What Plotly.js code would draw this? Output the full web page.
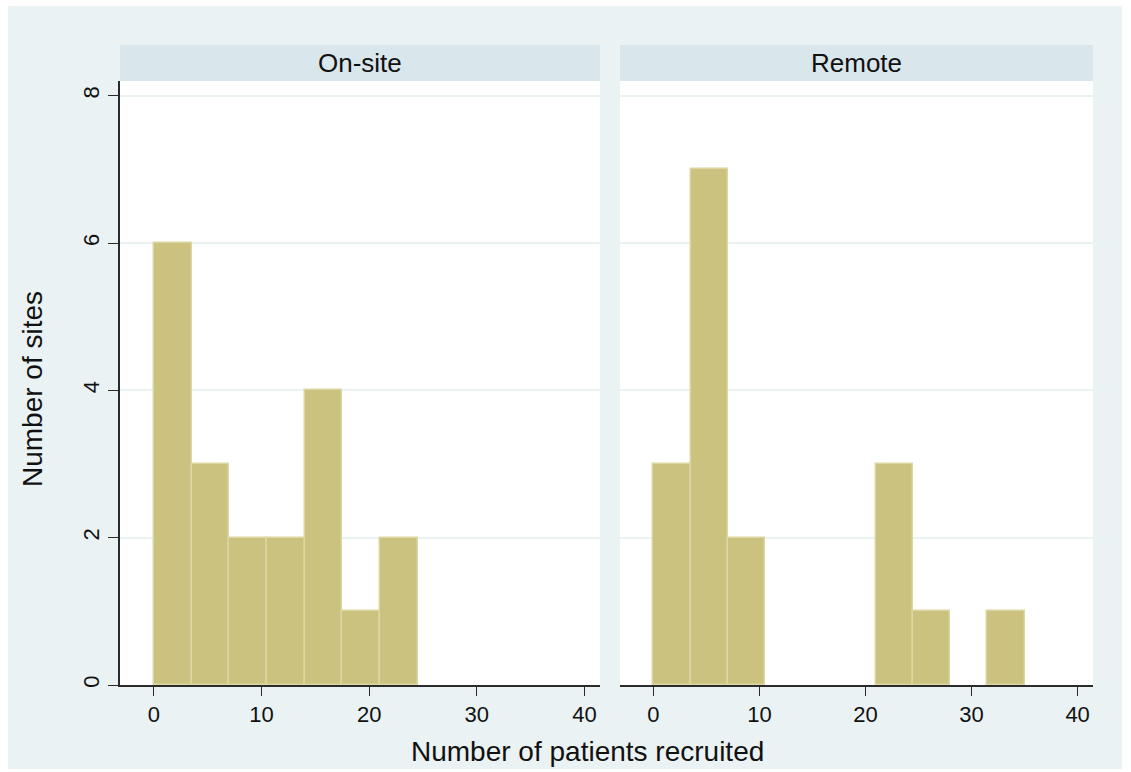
<!DOCTYPE html>
<html>
<head>
<meta charset="utf-8">
<script src="https://cdn.plot.ly/plotly-3.0.1.min.js"></script>
<style>
  html, body { margin: 0; padding: 0; background: #ffffff; }
  #chart { position: absolute; left: 8px; top: 6px; width: 1114px; height: 763px; }
</style>
</head>
<body>
<div id="chart"></div>
<script>
// ---- data ----
const panels = ["On-site", "Remote"];
const binWidth = 3.5;               // patients per bin, bins start at 0
const onsiteCounts = [6, 3, 2, 2, 4, 1, 2];
const remoteCounts = [3, 7, 2, 0, 0, 0, 3, 1, 0, 1];
const xTickVals = [0, 10, 20, 30, 40];
const yTickVals = [0, 2, 4, 6, 8];
const xTitle = "Number of patients recruited";
const yTitle = "Number of sites";

// ---- build ----
const fill = "#CAC27E";
const edge = "#DCD6A2";
function centers(counts) { return counts.map((_, i) => i * binWidth + binWidth / 2); }
function heights(counts) { return counts.map(c => (c === 0 ? null : c)); }

const traces = [
  { type: "bar", x: centers(onsiteCounts), y: heights(onsiteCounts), width: binWidth,
    xaxis: "x", yaxis: "y", marker: { color: fill, line: { color: edge, width: 1.5 } },
    hoverinfo: "x+y", showlegend: false },
  { type: "bar", x: centers(remoteCounts), y: heights(remoteCounts), width: binWidth,
    xaxis: "x2", yaxis: "y2", marker: { color: fill, line: { color: edge, width: 1.5 } },
    hoverinfo: "x+y", showlegend: false }
];

const font = "Liberation Sans, Arial, Helvetica, sans-serif";
const gridC = "#EAF2F3";
const axisC = "#2b2b2b";
const xRange = [-3.15, 41.45];
const yRange = [0, 8.2];
const tickFont = { family: font, size: 22, color: "#111" };

function xaxisDef(domain) {
  return { domain: domain, range: xRange, tickvals: xTickVals, ticks: "outside", ticklen: 9,
    tickcolor: axisC, tickwidth: 1.3, showline: true, linecolor: axisC, linewidth: 1.5,
    showgrid: false, zeroline: false, tickfont: tickFont, fixedrange: true };
}
const d1 = [0, 480 / 973], d2 = [500 / 973, 1];

const layout = {
  width: 1114, height: 763,
  paper_bgcolor: "#EAF2F3", plot_bgcolor: "#ffffff",
  margin: { l: 112, r: 29, t: 75, b: 84 },
  bargap: 0,
  font: { family: font, color: "#111" },
  xaxis: xaxisDef(d1),
  xaxis2: Object.assign(xaxisDef(d2), { anchor: "y2" }),
  yaxis: { domain: [0, 1], range: yRange, tickvals: yTickVals, ticks: "outside", ticklen: 10,
    tickcolor: axisC, tickwidth: 1.3, showline: true, linecolor: axisC, linewidth: 1.5,
    showgrid: true, gridcolor: gridC, gridwidth: 1.5, zeroline: false, tickangle: -90,
    tickfont: tickFont, fixedrange: true },
  yaxis2: { domain: [0, 1], anchor: "x2", range: yRange, tickvals: yTickVals, showticklabels: false,
    ticks: "", showline: false, showgrid: true, gridcolor: gridC, gridwidth: 1.5, zeroline: false, fixedrange: true },
  shapes: [
    { type: "rect", xref: "paper", yref: "paper", x0: d1[0], x1: d1[1], y0: 1, y1: 1 + 36 / 604,
      fillcolor: "#D9E6EB", line: { width: 0 } },
    { type: "rect", xref: "paper", yref: "paper", x0: d2[0], x1: d2[1], y0: 1, y1: 1 + 36 / 604,
      fillcolor: "#D9E6EB", line: { width: 0 } }
  ],
  annotations: [
    { text: panels[0], xref: "paper", yref: "paper", x: (d1[0] + d1[1]) / 2, y: 1 + 18 / 604,
      xanchor: "center", yanchor: "middle", showarrow: false, font: { family: font, size: 26, color: "#111" } },
    { text: panels[1], xref: "paper", yref: "paper", x: (d2[0] + d2[1]) / 2, y: 1 + 18 / 604,
      xanchor: "center", yanchor: "middle", showarrow: false, font: { family: font, size: 26, color: "#111" } },
    { text: xTitle, xref: "paper", yref: "paper", x: 0.48, y: 0, yshift: -66,
      xanchor: "center", yanchor: "middle", showarrow: false, font: { family: font, size: 28, color: "#111" } },
    { text: yTitle, xref: "paper", yref: "paper", x: 0, xshift: -88, y: 0.49, textangle: -90,
      xanchor: "center", yanchor: "middle", showarrow: false, font: { family: font, size: 28, color: "#111" } }
  ]
};

Plotly.newPlot("chart", traces, layout, { displayModeBar: false });
</script>
</body>
</html>
